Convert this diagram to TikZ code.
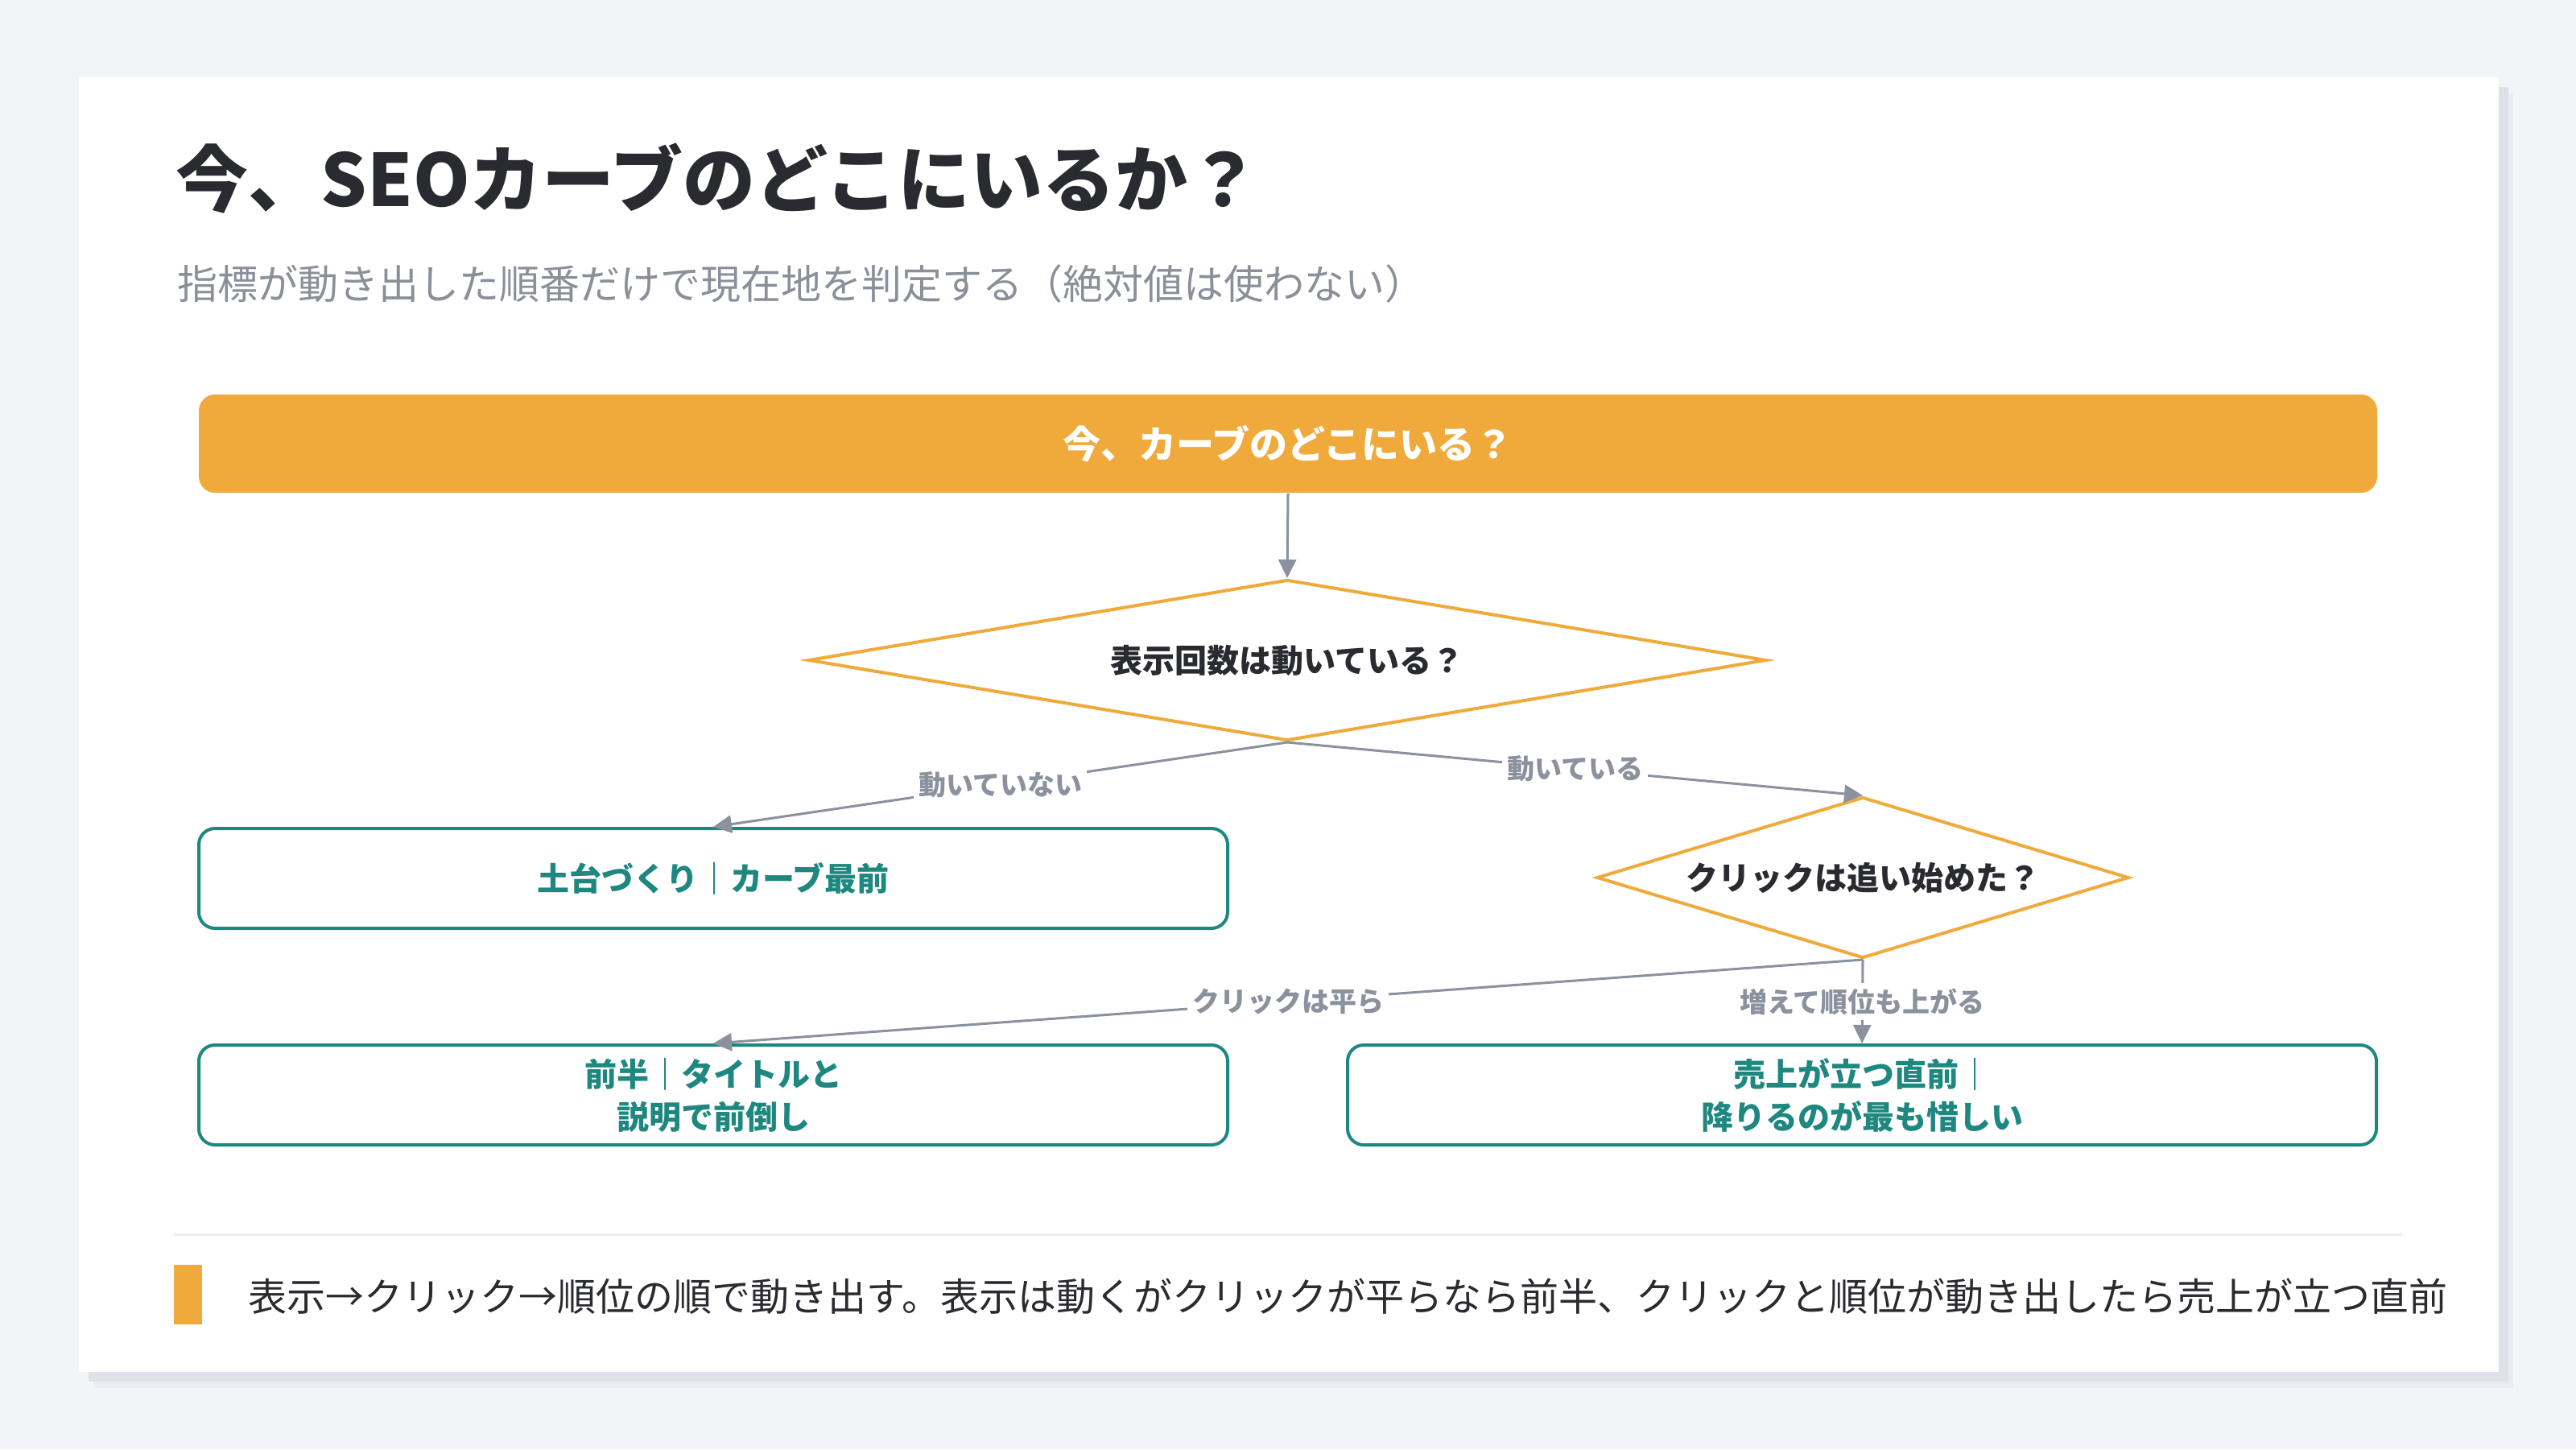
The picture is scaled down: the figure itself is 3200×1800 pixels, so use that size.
\documentclass[tikz,border=0pt]{standalone}
\usepackage{fontspec}
\setmainfont{Noto Sans CJK JP}
\usetikzlibrary{shapes.geometric,arrows.meta}
\definecolor{bgc}{HTML}{F3F4F8}
\definecolor{shA}{HTML}{DEE1E7}
\definecolor{shB}{HTML}{EAECF1}
\definecolor{ink}{HTML}{2A2B30}
\definecolor{subg}{HTML}{8A8F99}
\definecolor{orng}{HTML}{F0AA3C}
\definecolor{teal}{HTML}{1E8880}
\definecolor{edgeg}{HTML}{8B919D}
\definecolor{sepc}{HTML}{ECEEF2}
\tikzset{
  barbox/.style={rectangle, rounded corners=5pt, fill=orng, text=white,
    font=\bfseries\fontsize{11.75pt}{14pt}\selectfont,
    minimum width=676.5pt, minimum height=30.5pt, inner sep=0pt},
  decision/.style={shape=diamond, draw=orng, line width=1pt, fill=white, text=ink,
    font=\bfseries\fontsize{10pt}{12pt}\selectfont, inner sep=0pt},
  outcome/.style={rectangle, rounded corners=5pt, draw=teal, line width=1pt, fill=white,
    text=teal, align=center, font=\bfseries\fontsize{10pt}{13.25pt}\selectfont,
    minimum width=319.5pt, minimum height=31pt, inner sep=0pt},
  flow/.style={draw=edgeg, line width=0.75pt, -{Triangle[length=5.75pt,width=5.5pt]}},
  elabel/.style={fill=white, text=edgeg, inner sep=1.5pt,
    font=\bfseries\fontsize{8.5pt}{10pt}\selectfont},
}
\begin{document}
\begin{tikzpicture}[x=0.25pt,y=-0.25pt]
\useasboundingbox (0,0) rectangle (3200,1800);
\fill[bgc] (0,0) rectangle (3200,1800);
\fill[shB] (116,116) rectangle (3122,1724);
\fill[shA] (110,108) rectangle (3116,1716);
\fill[white] (98,96) rectangle (3104,1704);

\node[anchor=west, inner sep=0pt, text=ink, font=\bfseries\fontsize{22.5pt}{26pt}\selectfont] (title) at (218,222) {今、SEOカーブのどこにいるか？};
\node[anchor=west, inner sep=0pt, text=subg, font=\fontsize{12.5pt}{14pt}\selectfont] (sub) at (220,352) {指標が動き出した順番だけで現在地を判定する（絶対値は使わない）};

\node[barbox] (top) at (1600,551) {今、カーブのどこにいる？};
\node[decision, aspect=6, minimum width=297.5pt, minimum height=50pt] (d1) at (1599,820) {表示回数は動いている？};
\node[decision, aspect=3.3, minimum width=165.25pt, minimum height=50pt] (d2) at (2314,1090) {クリックは追い始めた？};
\node[outcome] (o1) at (886,1091) {土台づくり｜カーブ最前};
\node[outcome] (o2) at (886,1360) {前半｜タイトルと\\説明で前倒し};
\node[outcome] (o3) at (2313,1360) {売上が立つ直前｜\\降りるのが最も惜しい};

\draw[flow] (top.south) -- (d1.north);
\draw[flow] (d1.south) -- node[elabel] (l1) {動いていない} (o1.north);
\draw[flow] (d1.south) -- node[elabel] (l2) {動いている} (d2.north);
\draw[flow] (d2.south) -- node[elabel] (l3) {クリックは平ら} (o2.north);
\draw[flow] (d2.south) -- node[elabel] (l4) {増えて順位も上がる} (o3.north);

\draw[sepc, line width=0.75pt] (216,1533) -- (2984,1533);
\fill[orng] (216,1571) rectangle (251,1645);
\node[anchor=west, inner sep=0pt, text=ink, font=\fontsize{12pt}{14pt}\selectfont] (foot) at (308,1610) {表示→クリック→順位の順で動き出す。表示は動くがクリックが平らなら前半、クリックと順位が動き出したら売上が立つ直前};
\end{tikzpicture}
\end{document}
